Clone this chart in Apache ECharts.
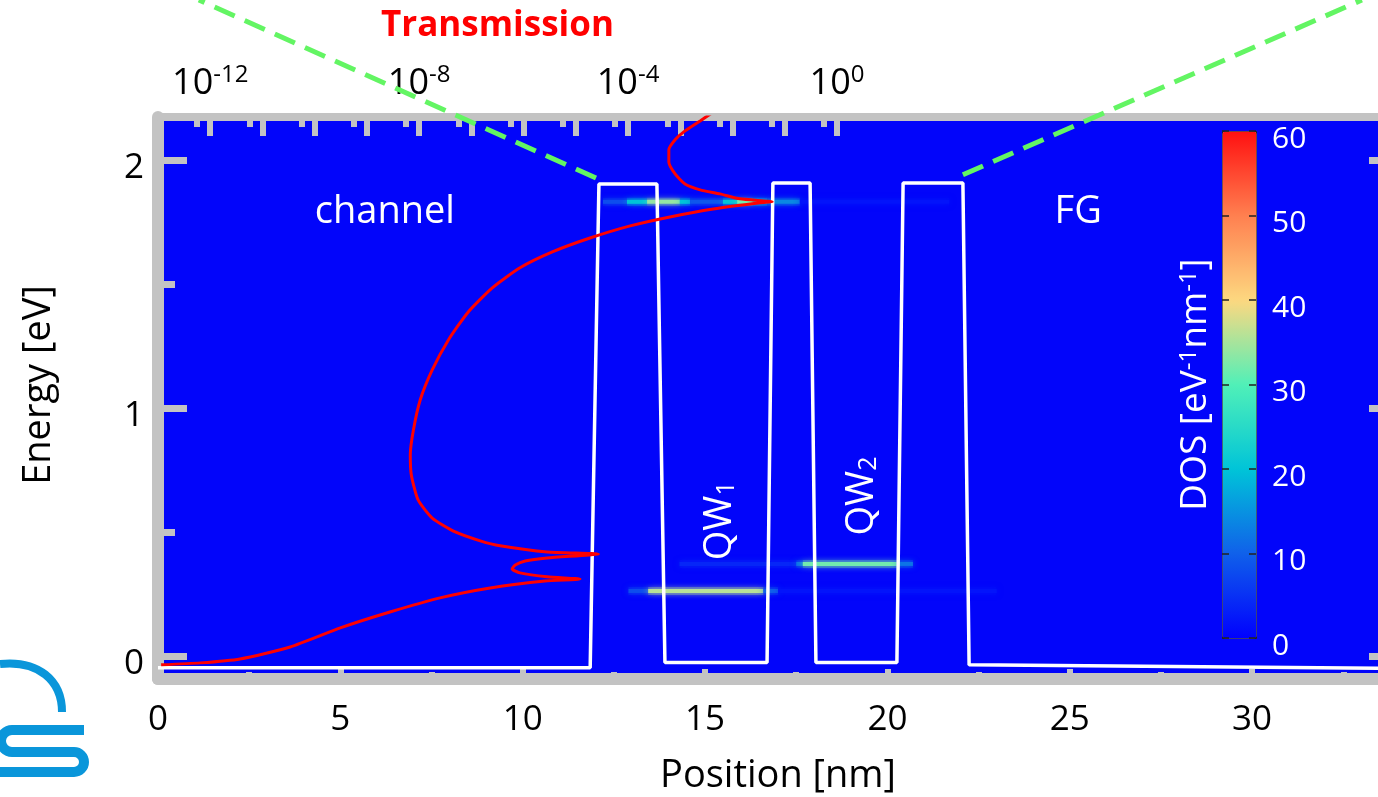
<!DOCTYPE html>
<html>
<head>
<meta charset="utf-8">
<script src="https://cdn.jsdelivr.net/npm/echarts@6/dist/echarts.min.js"></script>
<style>
html, body { margin: 0; padding: 0; background: #fff; }
#main { width: 1378px; height: 797px; }
</style>
</head>
<body>
<div id="main"></div>
<script>
// conduction band profile: [position nm, energy eV]
var potential = [
  [0, -0.048], [11.85, -0.048], [12.09, 1.903], [13.68, 1.903], [13.90, -0.026],
  [16.70, -0.026], [16.86, 1.907], [17.88, 1.907], [18.04, -0.026],
  [20.26, -0.026], [20.43, 1.907], [22.07, 1.907], [22.24, -0.036], [34, -0.05]
];

// transmission curve: [log10(T), energy eV]
var transmission = [
  [-12.94, -0.036], [-12.19, -0.028], [-11.43, -0.012], [-10.47, 0.036], [-9.51, 0.113],
  [-8.56, 0.177], [-7.60, 0.234], [-6.64, 0.274], [-5.59, 0.302], [-4.92, 0.310],
  [-5.55, 0.319], [-6.07, 0.335], [-6.22, 0.351], [-6.16, 0.367], [-5.97, 0.383],
  [-5.55, 0.395], [-4.57, 0.411], [-5.55, 0.419], [-6.45, 0.444], [-6.83, 0.464],
  [-7.31, 0.50], [-7.75, 0.556], [-8.02, 0.629], [-8.15, 0.73], [-8.17, 0.81],
  [-8.11, 0.911], [-7.98, 1.032], [-7.75, 1.153], [-7.44, 1.274], [-7.06, 1.387],
  [-6.60, 1.484], [-6.07, 1.565], [-5.45, 1.629], [-4.73, 1.685], [-3.96, 1.734],
  [-3.20, 1.770], [-2.37, 1.802], [-1.47, 1.827], [-1.24, 1.831], [-1.86, 1.843],
  [-2.24, 1.863], [-2.62, 1.879], [-2.91, 1.903], [-3.10, 1.944], [-3.22, 1.992],
  [-3.22, 2.04], [-3.10, 2.081], [-2.91, 2.117], [-2.62, 2.157], [-2.39, 2.19]
];

// bright DOS lines: [x start nm, x end nm, energy eV, DOS]
var dosLines = [
  [12.2, 12.86, 1.831, 8], [12.86, 13.41, 1.831, 20], [13.41, 14.31, 1.831, 34],
  [14.31, 14.59, 1.831, 20], [14.59, 15.49, 1.831, 9], [15.49, 15.88, 1.831, 20],
  [15.88, 16.31, 1.831, 32], [16.31, 16.70, 1.831, 22], [16.70, 17.60, 1.831, 14],
  [17.60, 21.7, 1.831, 2],
  [12.9, 13.44, 0.262, 8], [13.44, 16.60, 0.262, 36], [16.60, 17.0, 0.262, 10],
  [17.0, 23.0, 0.262, 2],
  [14.3, 17.5, 0.371, 4], [17.5, 17.68, 0.371, 12], [17.68, 20.26, 0.371, 32],
  [20.26, 20.7, 0.371, 12]
];

var posLabels = [0, 5, 10, 15, 20, 25, 30];
var posMinor = [2.5, 7.5, 12.5, 17.5, 22.5, 27.5, 32.5];
var energyLabels = [0, 1, 2];
var energyMinor = [0.5, 1.5];
var logMajor = [-12, -11, -10, -9, -8, -7, -6, -5, -4, -3, -2, -1, 0];
var logMinor = [-12.25, -11.25, -10.25, -9.25, -8.25, -7.25, -6.25, -5.25, -4.25, -3.25, -2.25, -1.25, -0.25];
var logLabels = [-12, -8, -4, 0];

// text in the plot: [text, position nm, energy eV, rotation]
var annotations = [
  ['channel', 6.22, 1.79, 0],
  ['FG', 25.23, 1.79, 0],
  ['QW{s|1}', 15.41, 0.545, 90],
  ['QW{s|2}', 19.30, 0.645, 90]
];

// dashed guides from the barrier tops
var guideLeft = [[12.01, 1.927], [1.12, 2.645]];
var guideRight = [[22.07, 1.94], [33.01, 2.645]];

var font = 'Open Sans';
var gray = '#c3c3c3';
var logoBlue = '#0a96da';
var xMax = 34, yMin = -0.093, yMax = 2.173;

var chart = echarts.init(document.getElementById('main'));

var hidden = { axisLine: { show: false, onZero: false }, axisLabel: { show: false }, splitLine: { show: false } };
var frame = function (w) { return { onZero: false, lineStyle: { color: gray, width: w } }; };

var option = {
  backgroundColor: '#fff',
  animation: false,
  title: {
    text: 'Transmission', left: 376, top: 4,
    textStyle: { color: '#ff0000', fontWeight: 'bold', fontSize: 35, fontFamily: font }
  },
  grid: [
    { left: 158, top: 117, right: -20, bottom: 118, show: true, backgroundColor: '#0205fa', borderWidth: 0, outerBoundsMode: 'none' },
    { left: 1222, top: 131, width: 34, height: 507, outerBoundsMode: 'none' },
    { left: 158, top: 117, right: -20, bottom: 118, outerBoundsMode: 'none' }
  ],
  xAxis: [
    {
      gridIndex: 0, type: 'value', position: 'bottom', min: 0, max: xMax,
      axisLine: frame(12),
      axisTick: { inside: true, length: 10, customValues: posLabels, lineStyle: { color: gray, width: 6 } },
      axisLabel: { customValues: posLabels, fontSize: 35, color: '#000', fontFamily: font, margin: 24 },
      splitLine: { show: false },
      name: 'Position [nm]', nameLocation: 'middle', nameGap: 78,
      nameTextStyle: { fontSize: 38, color: '#000', fontFamily: font }
    },
    {
      gridIndex: 0, type: 'value', position: 'top', min: -13, max: 10.74,
      axisLine: frame(8),
      axisTick: { inside: true, length: 19, customValues: logMajor, lineStyle: { color: gray, width: 6 } },
      axisLabel: {
        customValues: logLabels, margin: 12,
        formatter: function (v) { return '{a|10}{b|' + v + '}'; },
        rich: {
          a: { fontSize: 36, color: '#000', fontFamily: font, lineHeight: 42 },
          b: { fontSize: 24, color: '#000', fontFamily: font, verticalAlign: 'top', lineHeight: 26 }
        }
      },
      splitLine: { show: false }
    },
    Object.assign({
      gridIndex: 2, type: 'value', position: 'top', min: -13, max: 10.74,
      axisTick: { inside: true, length: 10, customValues: logMinor, lineStyle: { color: gray, width: 6 } }
    }, hidden),
    Object.assign({
      gridIndex: 2, type: 'value', position: 'bottom', min: 0, max: xMax,
      axisTick: { inside: true, length: 7, customValues: posMinor, lineStyle: { color: gray, width: 6 } }
    }, hidden),
    Object.assign({ gridIndex: 1, type: 'value', min: 0, max: 1, axisTick: { show: false } }, hidden)
  ],
  yAxis: [
    {
      gridIndex: 0, type: 'value', position: 'left', min: yMin, max: yMax,
      axisLine: frame(12),
      axisTick: { inside: true, length: 29, customValues: energyLabels, lineStyle: { color: gray, width: 7 } },
      axisLabel: { customValues: energyLabels, fontSize: 35, color: '#000', fontFamily: font, margin: 14, verticalAlign: 'top', lineHeight: 16 },
      splitLine: { show: false },
      name: 'Energy [eV]', nameLocation: 'middle', nameGap: 100,
      nameTextStyle: { fontSize: 38, color: '#000', fontFamily: font, padding: [0, 0, 0, 26] }
    },
    {
      gridIndex: 0, type: 'value', position: 'right', min: yMin, max: yMax,
      axisLine: frame(12),
      axisTick: { inside: true, length: 29, customValues: energyLabels, lineStyle: { color: gray, width: 7 } },
      axisLabel: { show: false }, splitLine: { show: false }
    },
    Object.assign({
      gridIndex: 2, type: 'value', position: 'left', min: yMin, max: yMax,
      axisTick: { inside: true, length: 17, customValues: energyMinor, lineStyle: { color: gray, width: 7 } }
    }, hidden),
    Object.assign({
      gridIndex: 2, type: 'value', position: 'right', min: yMin, max: yMax,
      axisTick: { inside: true, length: 17, customValues: energyMinor, lineStyle: { color: gray, width: 7 } }
    }, hidden),
    {
      gridIndex: 1, type: 'value', position: 'right', min: 0, max: 60, interval: 10, z: 10,
      axisLine: { show: false, onZero: false },
      axisTick: { inside: true, length: 7, lineStyle: { color: '#222', width: 1.5 } },
      axisLabel: { fontSize: 30, color: '#fff', fontFamily: font, margin: 16, verticalAlign: 'top', lineHeight: 16 },
      splitLine: { show: false }
    },
    {
      gridIndex: 1, type: 'value', position: 'left', min: 0, max: 60, interval: 10, z: 10,
      axisLine: { show: false, onZero: false },
      axisTick: { inside: true, length: 7, lineStyle: { color: '#222', width: 1.5 } },
      axisLabel: { show: false }, splitLine: { show: false },
      name: 'DOS [eV{s|-1}nm{s|-1}]', nameLocation: 'middle', nameGap: 8,
      nameTextStyle: {
        fontSize: 37, color: '#fff', fontFamily: font,
        rich: { s: { fontSize: 24, color: '#fff', fontFamily: font, verticalAlign: 'top', lineHeight: 24 } }
      }
    }
  ],
  visualMap: {
    type: 'continuous', min: 0, max: 60, seriesIndex: 0, dimension: 3,
    left: 1222, top: 131, itemWidth: 34, itemHeight: 507, padding: 0,
    calculable: false, borderColor: '#222', borderWidth: 1,
    inRange: { color: ['#0000ff', '#1060ea', '#00c4d8', '#50f0b8', '#fdd880', '#ff8050', '#ff1010'] }
  },
  series: [
    {
      type: 'custom', xAxisIndex: 0, yAxisIndex: 0, data: dosLines, z: 2,
      encode: { x: [0, 1], y: 2 },
      renderItem: function (params, api) {
        var a = api.coord([api.value(0), api.value(2)]);
        var b = api.coord([api.value(1), api.value(2)]);
        var c = api.visual('color');
        return {
          type: 'group',
          children: [
            { type: 'rect', shape: { x: a[0], y: a[1] - 4, width: b[0] - a[0], height: 8 }, style: { fill: c, opacity: 0.3 } },
            { type: 'rect', shape: { x: a[0], y: a[1] - 2, width: b[0] - a[0], height: 4 }, style: { fill: c, shadowBlur: 6, shadowColor: c } }
          ]
        };
      }
    },
    {
      type: 'line', xAxisIndex: 0, yAxisIndex: 0, data: potential, z: 3,
      showSymbol: false, lineStyle: { color: '#fff', width: 3.5 }
    },
    {
      type: 'line', xAxisIndex: 0, yAxisIndex: 0, data: guideLeft, z: 4, clip: false,
      showSymbol: false, lineStyle: { color: '#63f563', width: 5, type: [22, 11] }
    },
    {
      type: 'line', xAxisIndex: 0, yAxisIndex: 0, data: guideRight, z: 4, clip: false,
      showSymbol: false, lineStyle: { color: '#63f563', width: 5, type: [22, 11] }
    },
    {
      type: 'line', xAxisIndex: 1, yAxisIndex: 0, data: transmission, z: 5,
      showSymbol: false, smooth: 0.2, lineStyle: { color: '#ff0000', width: 3 }
    },
    {
      type: 'scatter', xAxisIndex: 0, yAxisIndex: 0, z: 6, symbolSize: 0, silent: true,
      itemStyle: { opacity: 1 },
      data: annotations.map(function (d) {
        return { value: [d[1], d[2]], name: d[0], label: { rotate: d[3] } };
      }),
      label: {
        show: true, position: 'inside', color: '#fff', opacity: 1, fontSize: 38, fontFamily: font,
        formatter: function (p) { return p.name; },
        rich: { s: { fontSize: 25, color: '#fff', fontFamily: font, verticalAlign: 'bottom', lineHeight: 25 } }
      }
    }
  ],
  graphic: [
    { type: 'bezierCurve', shape: { x1: 0, y1: 664, cpx1: 38, cpy1: 660, cpx2: 62, cpy2: 680, x2: 62, y2: 712 }, style: { fill: null, stroke: logoBlue, lineWidth: 8 } },
    { type: 'polyline', shape: { points: [[84, 730], [12, 730]] }, style: { fill: null, stroke: logoBlue, lineWidth: 10 } },
    { type: 'arc', shape: { cx: 12, cy: 741, r: 11, startAngle: Math.PI / 2, endAngle: Math.PI * 1.5, clockwise: true }, style: { fill: null, stroke: logoBlue, lineWidth: 10 } },
    { type: 'polyline', shape: { points: [[12, 752], [74, 752]] }, style: { fill: null, stroke: logoBlue, lineWidth: 10 } },
    { type: 'arc', shape: { cx: 74, cy: 762, r: 10, startAngle: -Math.PI / 2, endAngle: Math.PI / 2, clockwise: true }, style: { fill: null, stroke: logoBlue, lineWidth: 10 } },
    { type: 'polyline', shape: { points: [[74, 772], [0, 772]] }, style: { fill: null, stroke: logoBlue, lineWidth: 10 } }
  ]
};

chart.setOption(option);
</script>
</body>
</html>
